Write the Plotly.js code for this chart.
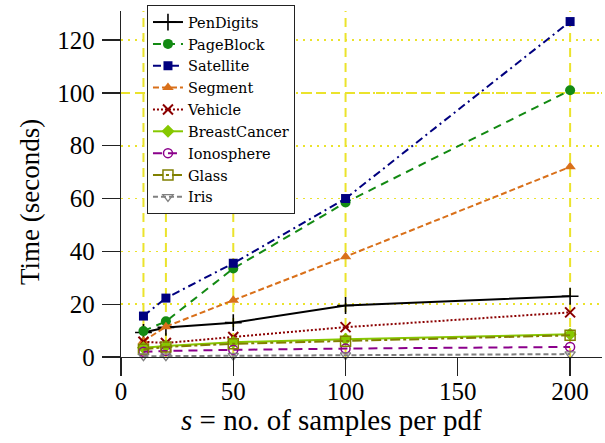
<!DOCTYPE html>
<html>
<head>
<meta charset="utf-8">
<script src="https://cdn.plot.ly/plotly-3.0.1.min.js"></script>
<style>html,body{margin:0;padding:0;background:#fff;}#chart{width:605px;height:443px;}</style>
</head>
<body>
<div id="chart"></div>
<script>
// ---- data ----
const samples = [10, 20, 50, 100, 200];
const seriesNames = ["PenDigits","PageBlock","Satellite","Segment","Vehicle","BreastCancer","Ionosphere","Glass","Iris"];
const penDigits    = [9.3, 11.2, 13.0, 19.5, 23.0];
const pageBlock    = [9.8, 13.5, 33.5, 58.5, 101.0];
const satellite    = [15.5, 22.3, 35.5, 60.0, 127.0];
const segment      = [6.0, 11.5, 21.5, 38.0, 72.0];
const vehicle      = [5.8, 5.3, 7.6, 11.3, 16.9];
const breastCancer = [3.5, 4.2, 5.6, 6.7, 8.6];
const ionosphere   = [2.0, 2.3, 2.7, 3.2, 3.8];
const glass        = [2.9, 3.8, 5.0, 6.0, 8.2];
const iris         = [0.3, 0.35, 0.5, 0.7, 1.1];
const xTicks = [0, 50, 100, 150, 200];
const yTicks = [0, 20, 40, 60, 80, 100, 120];
const yDashedRef = 100;

const values = [penDigits, pageBlock, satellite, segment, vehicle, breastCancer, ionosphere, glass, iris];
const styles = [
  {color:'#000000', dash:'solid', symbol:'cross-thin', size:12, lw:1.6},
  {color:'#138a13', dash:'8px,6px', symbol:'circle', size:10, lw:0},
  {color:'#00007f', dash:'8px,4px,2px,4px', symbol:'square', size:9, lw:0},
  {color:'#d9701a', dash:'6px,3px', symbol:'triangle-up', size:10, lw:0},
  {color:'#8b0000', dash:'2px,2px', symbol:'x-thin', size:10, lw:2},
  {color:'#86c800', dash:'solid', symbol:'diamond', size:10, lw:0},
  {color:'#8b008b', dash:'9px,6px', symbol:'circle-open', size:9, lw:1.5},
  {color:'#808000', dash:'10px,3px,3px,3px', symbol:'square-open', size:10, lw:1.5},
  {color:'#808080', dash:'5px,3px', symbol:'triangle-down-open', size:9, lw:1.3}
];

const traces = seriesNames.map((name, i) => {
  const s = styles[i];
  return {
    type:'scatter', mode:'lines+markers', name:name,
    x: samples, y: values[i], cliponaxis:false,
    line:{color:s.color, width:2, dash:s.dash},
    marker:{symbol:s.symbol, size:s.size, color:s.color, line:{color:s.color, width:s.lw}}
  };
});

const yellow = '#ebe32c';
const shapes = samples.map(x => ({
  type:'line', xref:'x', yref:'paper', x0:x, x1:x, y0:0, y1:1,
  line:{color:yellow, width:2, dash:'9px,6px'}, layer:'below'
}));
shapes.push({type:'line', xref:'paper', yref:'y', x0:0, x1:1, y0:yDashedRef, y1:yDashedRef,
  line:{color:yellow, width:2, dash:'9px,6px'}, layer:'below'});

const serif = 'Liberation Serif';
const legendFont = 'DejaVu Serif';
const layout = {
  width:605, height:443,
  margin:{l:121, r:3, t:11, b:86},
  paper_bgcolor:'#fff', plot_bgcolor:'#fff',
  font:{family:serif, color:'#000'},
  showlegend:true,
  xaxis:{range:[0,214.2], tickvals:xTicks, ticks:'outside', ticklen:18, tickwidth:1.3, tickcolor:'#222',
         showline:true, linecolor:'#222', linewidth:1.3, showgrid:false, zeroline:false,
         tickfont:{family:serif, size:25, color:'#000'}, ticklabelstandoff:-6},
  yaxis:{range:[0,131], tickvals:yTicks, ticks:'outside', ticklen:18, tickwidth:1.3, tickcolor:'#222',
         showline:true, linecolor:'#222', linewidth:1.3, showgrid:true, gridcolor:yellow, gridwidth:1.6,
         griddash:'2px,5px', zeroline:false, tickfont:{family:serif, size:25, color:'#000'}, ticklabelstandoff:2},
  legend:{x:0.054, y:1.017, xanchor:'left', yanchor:'top', bgcolor:'#fff', bordercolor:'#222', borderwidth:1,
          maxheight:400, font:{family:legendFont, size:14.5, color:'#000'}},
  shapes:shapes,
  annotations:[
    {text:'<i>s</i> = no. of samples per pdf', xref:'paper', yref:'paper', x:0.437, y:-0.182,
     xanchor:'center', yanchor:'middle', showarrow:false, font:{family:serif, size:29, color:'#000'}},
    {text:'Time (seconds)', xref:'paper', yref:'paper', x:-0.189, y:0.448, textangle:-90,
     xanchor:'center', yanchor:'middle', showarrow:false, font:{family:serif, size:27, color:'#000'}}
  ]
};

Plotly.newPlot('chart', traces, layout, {displayModeBar:false, staticPlot:true});
</script>
</body>
</html>
